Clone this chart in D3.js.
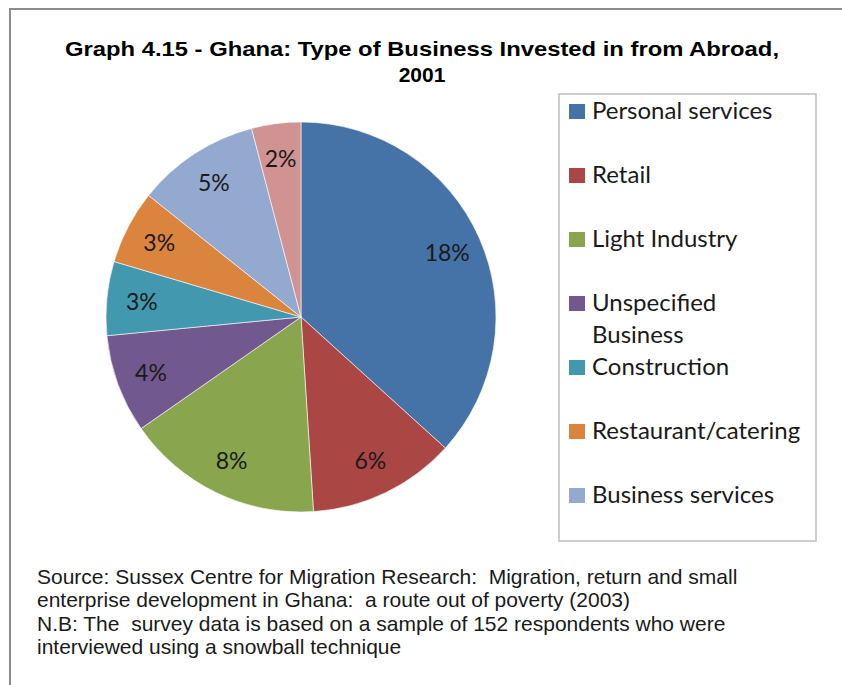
<!DOCTYPE html>
<html>
<head>
<meta charset="utf-8">
<script src="https://cdn.jsdelivr.net/npm/d3@7"></script>
<style>
  body { margin: 0; background: #fff; }
</style>
</head>
<body>
<div id="chart"></div>
<script>
// Data (labels are share of respondents)
const categories = ["Personal services", "Retail", "Light Industry", "Unspecified Business",
  "Construction", "Restaurant/catering", "Business services", "Other"];
const values = [18, 6, 8, 4, 3, 3, 5, 2];
const colors = ["#4572A7", "#AA4643", "#89A54E", "#71588F", "#4198AF", "#DB843D", "#93A9CF", "#D19392"];
const titleLines = ["Graph 4.15 - Ghana: Type of Business Invested in from Abroad,", "2001"];
const noteLines = [
  "Source: Sussex Centre for Migration Research:  Migration, return and small",
  "enterprise development in Ghana:  a route out of poverty (2003)",
  "N.B: The  survey data is based on a sample of 152 respondents who were",
  "interviewed using a snowball technique"
];

const width = 842;
const height = 685;

const svg = d3.select("#chart")
  .append("svg")
  .attr("width", width)
  .attr("height", height);

// outer frame (cropped on right and bottom)
svg.append("path")
  .attr("d", `M10,${height} L10,9 L${width},9`)
  .attr("fill", "none")
  .attr("stroke", "#8c8c8c")
  .attr("stroke-width", 2);

// title
const title = svg.append("text")
  .attr("text-anchor", "middle")
  .style("font-family", "'Liberation Sans', Arial, sans-serif")
  .style("font-weight", "bold")
  .style("font-size", "21px")
  .attr("fill", "#000");

title.selectAll("tspan")
  .data(titleLines)
  .join("tspan")
  .attr("x", 422)
  .attr("y", (d, i) => 56 + i * 26)
  .attr("textLength", (d, i) => i === 0 ? 714 : null)
  .attr("lengthAdjust", "spacingAndGlyphs")
  .text(d => d);

// pie
const cx = 301, cy = 317, radius = 195;
const pie = d3.pie().sort(null).value(d => d.value);
const arcs = pie(categories.map((c, i) => ({ name: c, value: values[i], color: colors[i] })));
const arc = d3.arc().innerRadius(0).outerRadius(radius);
const labelArc = d3.arc().innerRadius(radius * 0.82).outerRadius(radius * 0.82);

const g = svg.append("g").attr("transform", `translate(${cx},${cy})`);

g.selectAll("path")
  .data(arcs)
  .join("path")
  .attr("d", arc)
  .attr("fill", d => d.data.color)
  .attr("stroke", "#fff")
  .attr("stroke-width", 0.6);

g.selectAll("text")
  .data(arcs)
  .join("text")
  .attr("transform", d => `translate(${labelArc.centroid(d)})`)
  .attr("text-anchor", "middle")
  .attr("dy", "0.36em")
  .style("font-family", "Lato, 'Open Sans', sans-serif")
  .style("font-size", "23px")
  .attr("fill", "#1a1a1a")
  .text(d => d.data.value + "%");

// legend box - the last entry does not fit, as in the original
const legX = 559, legY = 94, legW = 257, legH = 447;

svg.append("rect")
  .attr("x", legX).attr("y", legY)
  .attr("width", legW).attr("height", legH)
  .attr("fill", "#fff")
  .attr("stroke", "#bdbdbd")
  .attr("stroke-width", 1.5);

const rowY = d3.scaleLinear().domain([0, 1]).range([111, 175]);
const shown = categories.filter((d, i) => rowY(i) + 16 < legY + legH);

const item = svg.append("g").selectAll("g")
  .data(shown)
  .join("g")
  .attr("transform", (d, i) => `translate(0,${rowY(i)})`);

item.append("rect")
  .attr("x", 569).attr("y", -7)
  .attr("width", 16).attr("height", 15)
  .attr("fill", (d, i) => colors[i]);

item.append("text")
  .attr("x", 592)
  .style("font-family", "Lato, 'Open Sans', sans-serif")
  .style("font-size", "24px")
  .attr("fill", "#1a1a1a")
  .selectAll("tspan")
  .data(d => d === "Unspecified Business" ? ["Unspecified", "Business"] : [d])
  .join("tspan")
  .attr("x", 592)
  .attr("y", (d, i) => 8 + i * 32)
  .text(d => d);

// footnote
svg.append("text")
  .style("font-family", "'Liberation Sans', Arial, sans-serif")
  .style("font-size", "21px")
  .style("white-space", "pre")
  .attr("fill", "#1a1a1a")
  .selectAll("tspan")
  .data(noteLines)
  .join("tspan")
  .attr("x", 37)
  .attr("y", (d, i) => 584 + i * 23.3)
  .text(d => d);
</script>
</body>
</html>
